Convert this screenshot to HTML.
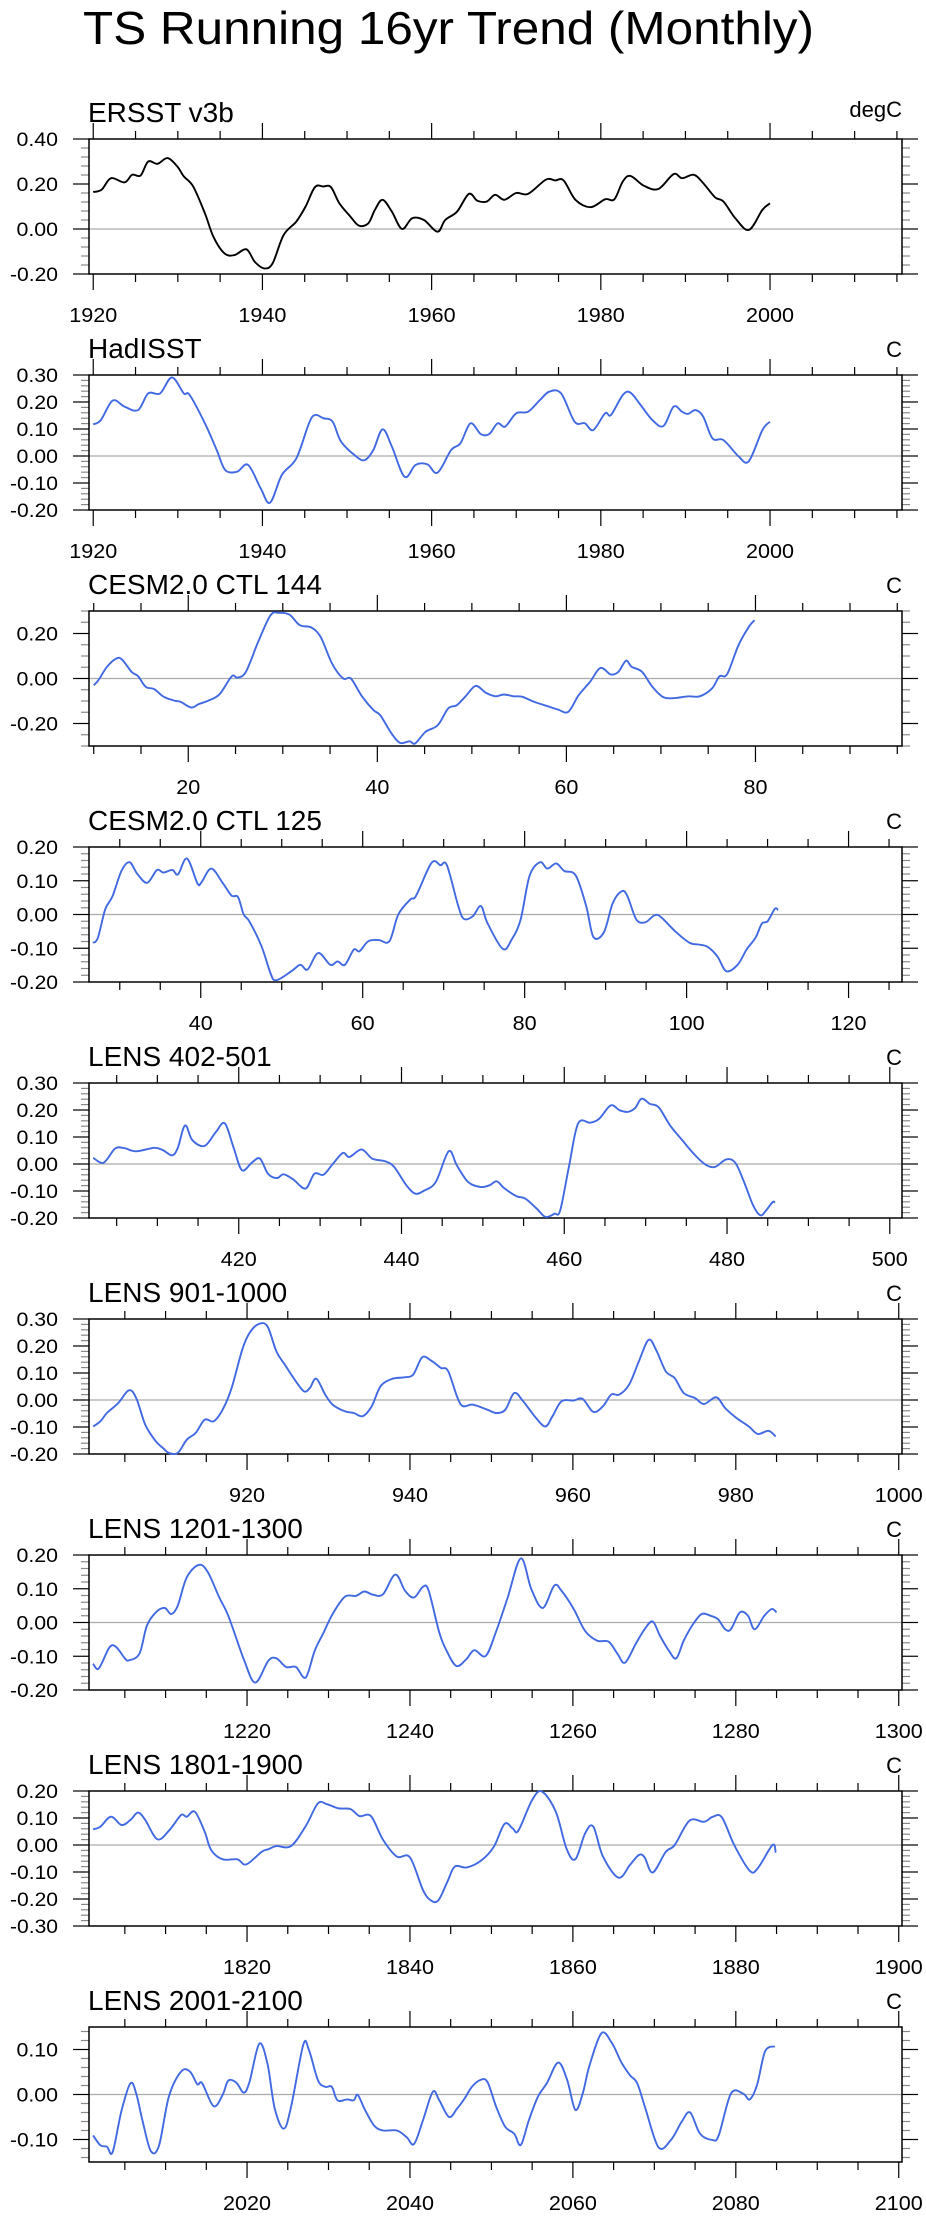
<!DOCTYPE html>
<html><head><meta charset="utf-8">
<style>
html,body{margin:0;padding:0;background:#fff;}
svg{display:block;font-family:"Liberation Sans",Arial,sans-serif;}
</style></head>
<body>
<svg id="chart" width="926" height="2219" viewBox="0 0 926 2219">
<text x="83" y="44" font-size="46" textLength="731" lengthAdjust="spacingAndGlyphs">TS Running 16yr Trend (Monthly)</text>
</svg>
<script>
// ---- data: years and values for each panel ----
const p1Years=[1920,1921,1922.1,1923.7,1924.6,1925.6,1926.5,1927.6,1928.8,1930,1930.7,1931.8,1933.2,1934.2,1935.5,1936.7,1938.1,1939.1,1940.2,1941.2,1942.5,1944,1945.1,1946.2,1947.2,1948.1,1949.1,1950.4,1951.4,1952.5,1953.3,1954.2,1955.3,1956.5,1957.7,1959.1,1960.7,1961.6,1963,1964.4,1965.4,1966.5,1967.5,1968.6,1970,1971.4,1973.5,1974.6,1975.6,1977,1978.8,1980.5,1981.6,1982.6,1983.5,1985.1,1986.8,1988.6,1989.6,1991,1992.1,1993.5,1994.5,1995.9,1997.5,1999.1,2000];
const p1Vals=[0.164,0.175,0.226,0.207,0.241,0.238,0.30,0.29,0.315,0.275,0.234,0.19,0.07,-0.034,-0.108,-0.116,-0.09,-0.146,-0.175,-0.153,-0.027,0.033,0.10,0.186,0.189,0.186,0.114,0.055,0.015,0.025,0.085,0.13,0.077,0.0,0.048,0.04,-0.012,0.04,0.077,0.156,0.126,0.122,0.152,0.13,0.16,0.156,0.219,0.216,0.216,0.13,0.097,0.132,0.132,0.211,0.236,0.192,0.178,0.244,0.226,0.241,0.204,0.141,0.122,0.048,-0.004,0.085,0.114];
const p2Years=[1920,1920.9,1922.3,1923.7,1925.3,1926.5,1927.9,1929.3,1930.7,1931.4,1933.2,1934.6,1935.6,1937,1938.3,1939.8,1940.9,1942.3,1944,1945.5,1946.2,1947.2,1948.3,1949.3,1951.1,1952.1,1953.1,1954.2,1955.3,1956.8,1958.1,1959.5,1960.7,1962.3,1963.4,1964.6,1965.8,1966.8,1967.8,1968.7,1970,1971.4,1972.8,1973.9,1975.3,1976.9,1978.1,1979.1,1980.5,1981.2,1982.6,1983.5,1984.7,1986.1,1987.4,1988.6,1989.6,1990.3,1991.2,1992.1,1993.2,1994.5,1996.3,1997.5,1999.1,2000];
const p2Vals=[0.117,0.133,0.205,0.183,0.17,0.232,0.232,0.291,0.232,0.226,0.121,0.022,-0.052,-0.058,-0.033,-0.12,-0.173,-0.07,-0.009,0.121,0.152,0.14,0.127,0.053,-0.002,-0.015,0.022,0.099,0.035,-0.077,-0.033,-0.031,-0.062,0.022,0.047,0.121,0.081,0.081,0.121,0.109,0.158,0.164,0.207,0.238,0.232,0.127,0.121,0.096,0.158,0.152,0.226,0.235,0.189,0.133,0.111,0.183,0.164,0.156,0.17,0.146,0.065,0.059,-0.002,-0.019,0.096,0.127];
const p3Years=[10,10.5,11.4,12.4,13,14,14.7,15.5,16.4,17.4,18.6,19.2,20.3,21.1,22.1,23.3,24.6,25.2,26.1,27.4,28.7,29.6,30.7,31.8,33,34,35.2,36.4,37.2,38.4,39.6,40.3,41.5,42.4,43.4,44,45.1,46.4,47.5,48.4,49.3,50.4,51.5,52.5,53.4,54.4,55.3,56.6,57.7,59.1,60.2,61.3,62.5,63.6,64.7,65.5,66.3,66.9,68,69.1,70.3,71.6,72.9,74.1,75.4,76.2,77,78.2,79.3,79.9];
const p3Vals=[-0.03,-0.007,0.052,0.089,0.084,0.03,0.01,-0.037,-0.047,-0.081,-0.099,-0.104,-0.129,-0.114,-0.099,-0.07,0.01,0.004,0.03,0.163,0.281,0.292,0.284,0.237,0.227,0.185,0.067,0.0,0.0,-0.081,-0.141,-0.163,-0.244,-0.286,-0.279,-0.289,-0.237,-0.207,-0.133,-0.119,-0.081,-0.033,-0.064,-0.079,-0.071,-0.079,-0.081,-0.104,-0.119,-0.138,-0.148,-0.074,-0.015,0.047,0.018,0.03,0.079,0.052,0.03,-0.037,-0.084,-0.086,-0.079,-0.079,-0.044,0.01,0.019,0.148,0.23,0.259];
const p4Years=[26.7,27.3,28.2,29.1,30.2,31.2,32.2,33.4,34.6,35.4,36.5,37.2,38.3,39.6,40.1,41.3,42.7,43.8,44.6,45.3,46,47.5,48.6,49.3,51.2,52.3,53.2,54.5,56,56.9,57.8,58.9,59.6,60.7,62,63.3,64.4,65.9,66.6,68.5,69.6,70.4,71.8,72.5,73.6,74.6,75.4,77.3,78.4,79.5,80.6,81.9,82.8,83.9,84.9,86.3,87.6,88.5,89.8,90.9,92,92.7,93.8,94.9,96,96.8,98.6,100.4,101.5,102.6,103.8,104.9,106.3,107.4,108.5,109.3,110,110.9,111.3];
const p4Vals=[-0.084,-0.069,0.015,0.054,0.129,0.155,0.119,0.094,0.132,0.124,0.132,0.119,0.166,0.092,0.096,0.136,0.094,0.056,0.052,0.0,-0.02,-0.094,-0.173,-0.195,-0.168,-0.149,-0.163,-0.114,-0.149,-0.139,-0.149,-0.104,-0.109,-0.079,-0.076,-0.079,0.0,0.045,0.056,0.153,0.146,0.146,0.025,-0.013,-0.005,0.025,-0.025,-0.102,-0.074,-0.015,0.114,0.155,0.136,0.151,0.129,0.116,0.025,-0.067,-0.052,0.035,0.069,0.054,-0.015,-0.023,-0.003,-0.007,-0.05,-0.084,-0.089,-0.096,-0.124,-0.168,-0.149,-0.104,-0.069,-0.027,-0.02,0.017,0.013];
const p5Years=[402.1,403.4,404.8,405.9,407.4,409.6,410.7,411.8,412.5,413.4,414.3,415.8,417.2,418.3,419.4,420.4,421.6,422.6,423.6,424.7,425.5,426.7,428.2,429.3,430.4,431.5,432.8,433.6,435.1,436.4,438,439.1,440.6,441.7,442.8,444.2,445.8,446.8,448.2,449.7,450.8,451.7,452.6,454.1,455.2,456.6,457.7,458.8,459.5,460.6,461.7,463.2,464.3,465.7,466.8,467.8,468.7,469.5,470.5,471.6,473,474.5,475.9,477.3,478.5,479.9,481,482.1,483.2,484.1,484.8,485.6,485.9];
const p5Vals=[0.023,0.005,0.057,0.059,0.047,0.06,0.051,0.032,0.059,0.143,0.088,0.067,0.119,0.15,0.057,-0.023,0.005,0.02,-0.036,-0.052,-0.038,-0.057,-0.091,-0.036,-0.04,-0.002,0.041,0.026,0.054,0.02,0.01,-0.011,-0.079,-0.11,-0.098,-0.067,0.047,-0.005,-0.067,-0.085,-0.079,-0.064,-0.089,-0.119,-0.128,-0.165,-0.196,-0.184,-0.172,-0.005,0.15,0.153,0.168,0.217,0.199,0.193,0.207,0.242,0.223,0.21,0.143,0.088,0.038,-0.001,-0.011,0.017,0.005,-0.067,-0.153,-0.19,-0.172,-0.141,-0.143];
const p6Years=[901.1,902,902.8,904.2,905.5,906.4,907.5,908.8,909.7,910.4,911.5,912.6,913.7,914.8,915.9,917,918.1,919.4,920.3,921.4,922.5,923.6,924.7,926,927,927.7,928.5,929.6,930.5,932,933.1,934.2,935.3,936.4,937.8,939.3,940.4,941.5,942.6,943.8,944.7,946.2,947.7,949.5,950.6,951.7,952.8,953.9,955.3,956.6,957.5,958.6,960.1,961.2,962.5,963.7,964.7,965.7,966.9,968.1,969.3,970.3,971.4,972.5,973.6,975,976.1,977.6,978.7,980.1,981.6,982.7,984,984.9];
const p6Vals=[-0.098,-0.079,-0.048,-0.011,0.036,0.007,-0.091,-0.153,-0.178,-0.196,-0.196,-0.147,-0.122,-0.073,-0.079,-0.036,0.044,0.186,0.248,0.281,0.273,0.18,0.128,0.069,0.032,0.044,0.079,0.02,-0.017,-0.042,-0.048,-0.06,-0.023,0.051,0.078,0.084,0.094,0.158,0.146,0.119,0.106,-0.015,-0.017,-0.036,-0.048,-0.036,0.026,-0.005,-0.06,-0.098,-0.06,-0.005,-0.002,0.004,-0.044,-0.023,0.02,0.02,0.057,0.143,0.223,0.18,0.106,0.081,0.026,0.007,-0.015,0.01,-0.03,-0.067,-0.098,-0.126,-0.114,-0.135];
const p7Years=[1201.1,1201.8,1203.1,1203.9,1205,1205.5,1206.8,1207.7,1208.8,1209.9,1210.7,1211.5,1212.6,1214.1,1215.2,1216.6,1217.7,1219.6,1221,1222.6,1223.6,1224.8,1226,1227.2,1228.3,1229.4,1230.5,1232,1233.4,1234.4,1235.5,1236.7,1238.2,1239.4,1240.5,1241.6,1242.3,1243.6,1244.5,1245.7,1246.9,1247.9,1249.3,1250.6,1252,1253.6,1254.9,1256.3,1257.7,1258.6,1260.1,1261.5,1263,1264.4,1265.5,1266.4,1267.7,1268.8,1269.8,1270.7,1271.8,1272.7,1273.6,1274.7,1275.8,1276.9,1277.8,1278.7,1279.4,1280.5,1281.5,1282.3,1283.5,1284.4,1285];
const p7Vals=[-0.122,-0.136,-0.074,-0.072,-0.106,-0.112,-0.092,-0.01,0.03,0.043,0.025,0.05,0.134,0.171,0.149,0.074,0.02,-0.109,-0.178,-0.114,-0.106,-0.132,-0.132,-0.163,-0.084,-0.03,0.025,0.076,0.079,0.092,0.082,0.084,0.142,0.094,0.074,0.106,0.094,-0.03,-0.084,-0.129,-0.109,-0.082,-0.099,-0.025,0.074,0.19,0.099,0.043,0.109,0.094,0.04,-0.025,-0.054,-0.057,-0.094,-0.119,-0.064,-0.02,0.003,-0.04,-0.084,-0.106,-0.054,-0.007,0.025,0.02,0.01,-0.02,-0.02,0.03,0.02,-0.02,0.02,0.04,0.03];
const p8Years=[1801.1,1802,1803.3,1804.6,1805.7,1806.6,1807.5,1809,1810.5,1811.9,1812.6,1813.6,1814.8,1815.6,1817,1818.8,1819.9,1821.8,1822.6,1823.6,1825.4,1827.2,1828.7,1829.8,1831.2,1832.7,1833.8,1835.2,1836.7,1838.4,1840,1841.6,1842.6,1843.5,1844.6,1845.5,1847,1848.8,1850.3,1851.6,1852.6,1853.3,1855,1856.2,1857.9,1859.2,1860.3,1861.5,1862.5,1863.7,1865.6,1867,1868.1,1868.8,1869.8,1871.4,1872.5,1874.3,1876.1,1877.2,1878.3,1879.8,1881.7,1882.7,1884.5,1884.9];
const p8Vals=[0.058,0.068,0.105,0.074,0.093,0.12,0.093,0.021,0.056,0.111,0.105,0.123,0.049,-0.019,-0.053,-0.053,-0.072,-0.025,-0.016,-0.004,-0.004,0.07,0.154,0.151,0.136,0.133,0.107,0.107,0.019,-0.043,-0.046,-0.167,-0.206,-0.204,-0.136,-0.08,-0.083,-0.056,-0.006,0.078,0.062,0.053,0.167,0.198,0.123,-0.012,-0.053,0.043,0.068,-0.043,-0.121,-0.074,-0.037,-0.046,-0.102,-0.025,0.0,0.09,0.086,0.105,0.102,0.0,-0.095,-0.086,0.0,-0.028];
const p9Years=[2001.1,2002,2002.8,2003.5,2004.6,2005.7,2006.4,2007.2,2008.2,2009.2,2010.4,2011.9,2013,2013.9,2014.5,2015.9,2017,2017.7,2018.7,2019.6,2020.3,2021.5,2022.5,2023.4,2024.5,2025.4,2026.9,2027.6,2028.7,2029.6,2030.4,2031.1,2032.3,2033.1,2033.6,2034.5,2035.6,2036.7,2038.4,2039.6,2040.5,2041.6,2042.8,2043.6,2044.8,2045.8,2046.7,2047.6,2048.6,2049.5,2050.6,2051.7,2052.8,2053.6,2054.6,2055.7,2056.8,2058.2,2059.3,2060.3,2061.2,2062,2063.5,2064.8,2065.9,2067,2067.9,2068.9,2070.5,2072,2073.4,2074.4,2075.6,2077.1,2077.9,2079.4,2080.9,2081.7,2082.6,2083.6,2084.8];
const p9Vals=[-0.091,-0.113,-0.116,-0.128,-0.035,0.025,0.002,-0.061,-0.126,-0.113,-0.005,0.051,0.051,0.023,0.025,-0.026,-0.001,0.031,0.026,0.004,0.028,0.113,0.069,-0.031,-0.076,-0.028,0.11,0.099,0.032,0.017,0.017,-0.013,-0.011,-0.013,-0.001,-0.035,-0.069,-0.08,-0.08,-0.095,-0.11,-0.057,0.006,-0.013,-0.05,-0.031,-0.009,0.017,0.032,0.028,-0.028,-0.072,-0.087,-0.112,-0.057,-0.005,0.025,0.071,0.032,-0.034,0.002,0.062,0.136,0.114,0.073,0.043,0.025,-0.031,-0.117,-0.102,-0.059,-0.04,-0.087,-0.101,-0.091,0.002,0.002,-0.011,0.021,0.096,0.107];

const panelTitles=["ERSST v3b","HadISST","CESM2.0 CTL 144","CESM2.0 CTL 125","LENS 402-501","LENS 901-1000","LENS 1201-1300","LENS 1801-1900","LENS 2001-2100"];
const panelUnits=["degC","C","C","C","C","C","C","C","C"];
const panelYears=[p1Years,p2Years,p3Years,p4Years,p5Years,p6Years,p7Years,p8Years,p9Years];
const panelVals=[p1Vals,p2Vals,p3Vals,p4Vals,p5Vals,p6Vals,p7Vals,p8Vals,p9Vals];
const xDomains=[[1919.5,2015.6],[1919.5,2015.6],[9.5,95.5],[26.2,126.6],[401.6,501.5],[900.6,1000.4],[1200.6,1300.4],[1800.6,1900.4],[2000.6,2100.4]];
const xMajorTicks=[[1920,1940,1960,1980,2000],[1920,1940,1960,1980,2000],[20,40,60,80],[40,60,80,100,120],[420,440,460,480,500],[920,940,960,980,1000],[1220,1240,1260,1280,1300],[1820,1840,1860,1880,1900],[2020,2040,2060,2080,2100]];
const yDomains=[[-0.2,0.4],[-0.2,0.3],[-0.3,0.3],[-0.2,0.2],[-0.2,0.3],[-0.2,0.3],[-0.2,0.2],[-0.3,0.2],[-0.15,0.15]];
const yMajorStep=[0.2,0.1,0.2,0.1,0.1,0.1,0.1,0.1,0.1];
const yMinorStep=[0.04,0.02,0.05,0.02,0.02,0.02,0.02,0.02,0.02];
const lineColors=["#000000","#4169e1","#4169e1","#4169e1","#4169e1","#4169e1","#4169e1","#4169e1","#4169e1"];

const NS="http://www.w3.org/2000/svg";
const svg=document.getElementById('chart');
const L=89,R=902,H=135,TOP0=139,GAP=236;
function mk(tag,attrs,parent){const e=document.createElementNS(NS,tag);for(const k in attrs)e.setAttribute(k,attrs[k]);parent.appendChild(e);return e;}
function labW(s){let w=0;for(const c of s){w+= c==='.'?5.5:(c==='-'?6.5:12);}return w;}
function smoothPath(pts){
  let d='M'+pts[0][0].toFixed(1)+','+pts[0][1].toFixed(1);
  for(let k=0;k<pts.length-1;k++){
    const p0=pts[Math.max(0,k-1)],p1=pts[k],p2=pts[k+1],p3=pts[Math.min(pts.length-1,k+2)];
    const t=0.5/3;
    const c1=[p1[0]+(p2[0]-p0[0])*t,p1[1]+(p2[1]-p0[1])*t];
    const c2=[p2[0]-(p3[0]-p1[0])*t,p2[1]-(p3[1]-p1[1])*t];
    d+=' C'+c1[0].toFixed(1)+','+c1[1].toFixed(1)+' '+c2[0].toFixed(1)+','+c2[1].toFixed(1)+' '+p2[0].toFixed(1)+','+p2[1].toFixed(1);
  }
  return d;
}

for(let i=0;i<9;i++){
  const top=TOP0+i*GAP,bot=top+H;
  const g=mk('g',{},svg);
  
  
  const [x0,x1]=xDomains[i],[y0,y1]=yDomains[i];
  const xs=v=>L+(v-x0)/(x1-x0)*(R-L);
  const ys=v=>bot-(v-y0)/(y1-y0)*H;
  const t=mk('text',{x:L-1,y:top-17,'font-size':28},g);t.textContent=panelTitles[i];
  
  
  const u=mk('text',{x:R,y:top-(i===0?22:18),'font-size':22,'text-anchor':'end'},g);u.textContent=panelUnits[i];
  
  
  const z=mk('line',{x1:L,x2:R,y1:ys(0),y2:ys(0),stroke:'#aaaaaa','stroke-width':1.2},g);
  
  
  const xt=mk('g',{stroke:'#000','stroke-width':1.2},g);
  
  
  const major=xMajorTicks[i];
  const start=Math.ceil(x0/5)*5;
  for(let v=start;v<=x1+1e-6;v+=5){
    const isMaj=major.some(m=>Math.abs(m-v)<1e-6);
    const len=isMaj?16:8,x=xs(v);
    mk('line',{x1:x,x2:x,y1:bot,y2:bot+len},xt);
    mk('line',{x1:x,x2:x,y1:top,y2:top-len},xt);
  }
  major.forEach(m=>{
    const s=String(m);
    const lt=mk('text',{x:xs(m),y:bot+48,'font-size':20,'text-anchor':'middle',textLength:labW(s),lengthAdjust:'spacingAndGlyphs'},g);
    lt.textContent=s;
    
    
  });
  const yt=mk('g',{'stroke-width':1.2},g);
  
  
  const mn=yMinorStep[i],mj=yMajorStep[i];
  const n0=Math.ceil(y0/mn-1e-6),n1=Math.floor(y1/mn+1e-6);
  for(let k=n0;k<=n1;k++){
    const v=k*mn,y=ys(v);
    const isMaj=Math.abs(v/mj-Math.round(v/mj))<1e-6;
    const len=isMaj?16:8,col=isMaj?'#000':'#888';
    mk('line',{x1:L,x2:L-len,y1:y,y2:y,stroke:col},yt);
    mk('line',{x1:R,x2:R+len,y1:y,y2:y,stroke:col},yt);
    if(isMaj){
      const s=(Math.abs(v)<1e-9?0:v).toFixed(2);
      const lt=mk('text',{x:58,y:y+7,'font-size':19,'text-anchor':'end',textLength:labW(s),lengthAdjust:'spacingAndGlyphs'},g);
      lt.textContent=s;
      
      
    }
  }
  const b=mk('rect',{x:L,y:top,width:R-L,height:H,fill:'none',stroke:'#000','stroke-width':1.5},g);
  
  
  const yrs=panelYears[i],vals=panelVals[i];
  const pts=yrs.map((yr,k)=>[xs(yr),ys(vals[k])]);
  const p=mk('path',{d:smoothPath(pts),fill:'none',stroke:lineColors[i],'stroke-width':1.9,'stroke-linejoin':'round'},g);
  
  
}
</script>
</body></html>
